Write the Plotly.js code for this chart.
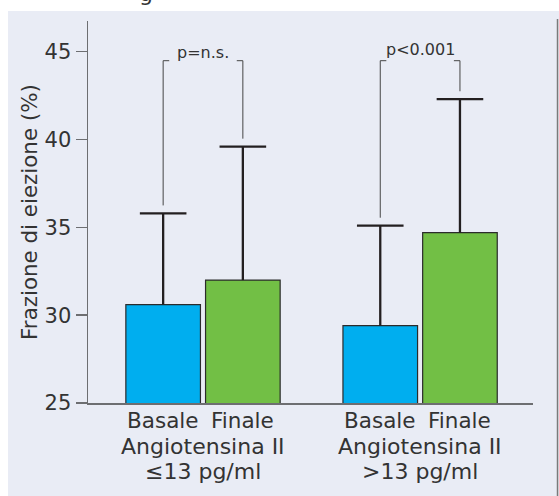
<!DOCTYPE html>
<html>
<head>
<meta charset="utf-8">
<script src="https://cdn.plot.ly/plotly-3.0.1.min.js"></script>
<style>
html,body{margin:0;padding:0;background:#ffffff;}
#chart{width:559px;height:496px;}
</style>
</head>
<body>
<div id="chart"></div>
<script>
// ---- data ----
const phases = ["Basale", "Finale"];
const groupLine1 = ["Angiotensina II", "Angiotensina II"];
const groupLine2 = ["\u226413 pg/ml", ">13 pg/ml"];
const basaleMean = [30.6, 29.4];
const basaleSD = [5.2, 5.7];
const finaleMean = [32.0, 34.7];
const finaleSD = [7.6, 7.6];
const pLabels = ["p=n.s.", "p<0.001"];
const yTicks = [25, 30, 35, 40, 45];

// ---- layout helpers ----
const groupIdx = groupLine1.map((_, i) => i);
const bargap = 0.2658, bargroupgap = 0.064;
const off = (1 - bargap) / 4;           // half of slot width
const barW = (1 - bargap) / 2 * (1 - bargroupgap);
const xB = groupIdx.map(i => i - off);
const xF = groupIdx.map(i => i + off);
const textColor = "#333333";
const axisColor = "#6d6e71";
const font = "DejaVu Sans, Verdana, sans-serif";
const capHalf = 0.1073;

// upper error bars (stem + cap) built from the series
const ex = [], ey = [];
function addErr(xs, means, sds) {
  xs.forEach((xc, i) => {
    const top = means[i] + sds[i];
    ex.push(xc, xc, null, xc - capHalf, xc + capHalf, null);
    ey.push(means[i], top, null, top, top, null);
  });
}
addErr(xB, basaleMean, basaleSD);
addErr(xF, finaleMean, finaleSD);

const traces = [
  {type: "bar", name: phases[0], x: xB, y: basaleMean, width: barW,
   marker: {color: "#00aeef", line: {color: "#2b2b2b", width: 1.2}}, hoverinfo: "skip"},
  {type: "bar", name: phases[1], x: xF, y: finaleMean, width: barW,
   marker: {color: "#72bf45", line: {color: "#2b2b2b", width: 1.2}}, hoverinfo: "skip"},
  {type: "scatter", mode: "lines", x: ex, y: ey, connectgaps: false,
   line: {color: "#231f20", width: 2.3}, hoverinfo: "skip", cliponaxis: false}
];

// brackets
const bracketTop = 44.49;
const gap = 0.45;
const stub = 0.028;
const shapes = [];
const lineStyle = {color: "#454545", width: 1};
groupIdx.forEach(i => {
  const lTop = basaleMean[i] + basaleSD[i] + gap;
  const rTop = finaleMean[i] + finaleSD[i] + gap;
  shapes.push({type: "line", xref: "x", yref: "y", x0: xB[i], x1: xB[i], y0: lTop, y1: bracketTop, line: lineStyle});
  shapes.push({type: "line", xref: "x", yref: "y", x0: xF[i], x1: xF[i], y0: rTop, y1: bracketTop, line: lineStyle});
  shapes.push({type: "line", xref: "x", yref: "y", x0: xB[i], x1: xB[i] + stub, y0: bracketTop, y1: bracketTop, line: lineStyle});
  shapes.push({type: "line", xref: "x", yref: "y", x0: xF[i] - stub, x1: xF[i], y0: bracketTop, y1: bracketTop, line: lineStyle});
});
// page frame: white strips top/left, grey right edge
shapes.push({type: "rect", xref: "paper", yref: "paper", x0: -0.3, x1: 1.2, y0: 1.0262, y1: 1.2, fillcolor: "#ffffff", line: {width: 0}, layer: "below"});
shapes.push({type: "rect", xref: "paper", yref: "paper", x0: -0.3, x1: -0.1798, y0: -0.4, y1: 1.2, fillcolor: "#ffffff", line: {width: 0}, layer: "below"});
shapes.push({type: "line", xref: "paper", yref: "paper", x0: 1.0551, x1: 1.0551, y0: 1.0052, y1: -0.3, line: {color: "#7a7a7a", width: 1.5}});

const annotations = [];
const pY = [44.94, 45.13];
groupIdx.forEach(i => {
  annotations.push({xref: "x", yref: "y", x: i, y: pY[i], text: pLabels[i], showarrow: false,
    xanchor: "center", yanchor: "middle", font: {family: font, size: 16, color: textColor}});
  annotations.push({xref: "x", yref: "paper", x: xB[i], y: -0.0460, text: phases[0], showarrow: false,
    xanchor: "center", yanchor: "middle", font: {family: font, size: 21.5, color: textColor}});
  annotations.push({xref: "x", yref: "paper", x: xF[i], y: -0.0460, text: phases[1], showarrow: false,
    xanchor: "center", yanchor: "middle", font: {family: font, size: 21.5, color: textColor}});
  annotations.push({xref: "x", yref: "paper", x: i, y: -0.1148, text: groupLine1[i], showarrow: false,
    xanchor: "center", yanchor: "middle", font: {family: font, size: 22, color: textColor}});
  annotations.push({xref: "x", yref: "paper", x: i, y: -0.1787, text: groupLine2[i], showarrow: false,
    xanchor: "center", yanchor: "middle", font: {family: font, size: 22, color: textColor}});
});
// cut-off title fragment at the very top
annotations.push({xref: "paper", yref: "paper", x: (146 - 88) / 445, y: 1.0711, text: "g", showarrow: false,
  xanchor: "center", yanchor: "middle", font: {family: font, size: 22, color: textColor}});

const layout = {
  width: 559, height: 496,
  margin: {l: 88, r: 26, t: 21, b: 92.7, pad: 0},
  paper_bgcolor: "#e9ecf5",
  plot_bgcolor: "#e9ecf5",
  showlegend: false,
  barmode: "overlay",
  xaxis: {
    range: [-0.5297, 1.520], fixedrange: true,
    showticklabels: false,
    ticks: "", showgrid: false, zeroline: false,
    showline: true, linecolor: axisColor, linewidth: 1.5
  },
  yaxis: {
    range: [25, 46.75], fixedrange: true,
    tickvals: yTicks, ticks: "outside", ticklen: 11, tickwidth: 1.5, tickcolor: axisColor,
    showgrid: false, zeroline: false,
    showline: true, linecolor: axisColor, linewidth: 1.5,
    tickfont: {family: font, size: 21, color: textColor},
    title: {text: "Frazione di eiezione (%)", standoff: 1, font: {family: font, size: 21.4, color: textColor}}
  },
  shapes: shapes,
  annotations: annotations
};

Plotly.newPlot("chart", traces, layout, {displayModeBar: false, staticPlot: true});
</script>
</body>
</html>
